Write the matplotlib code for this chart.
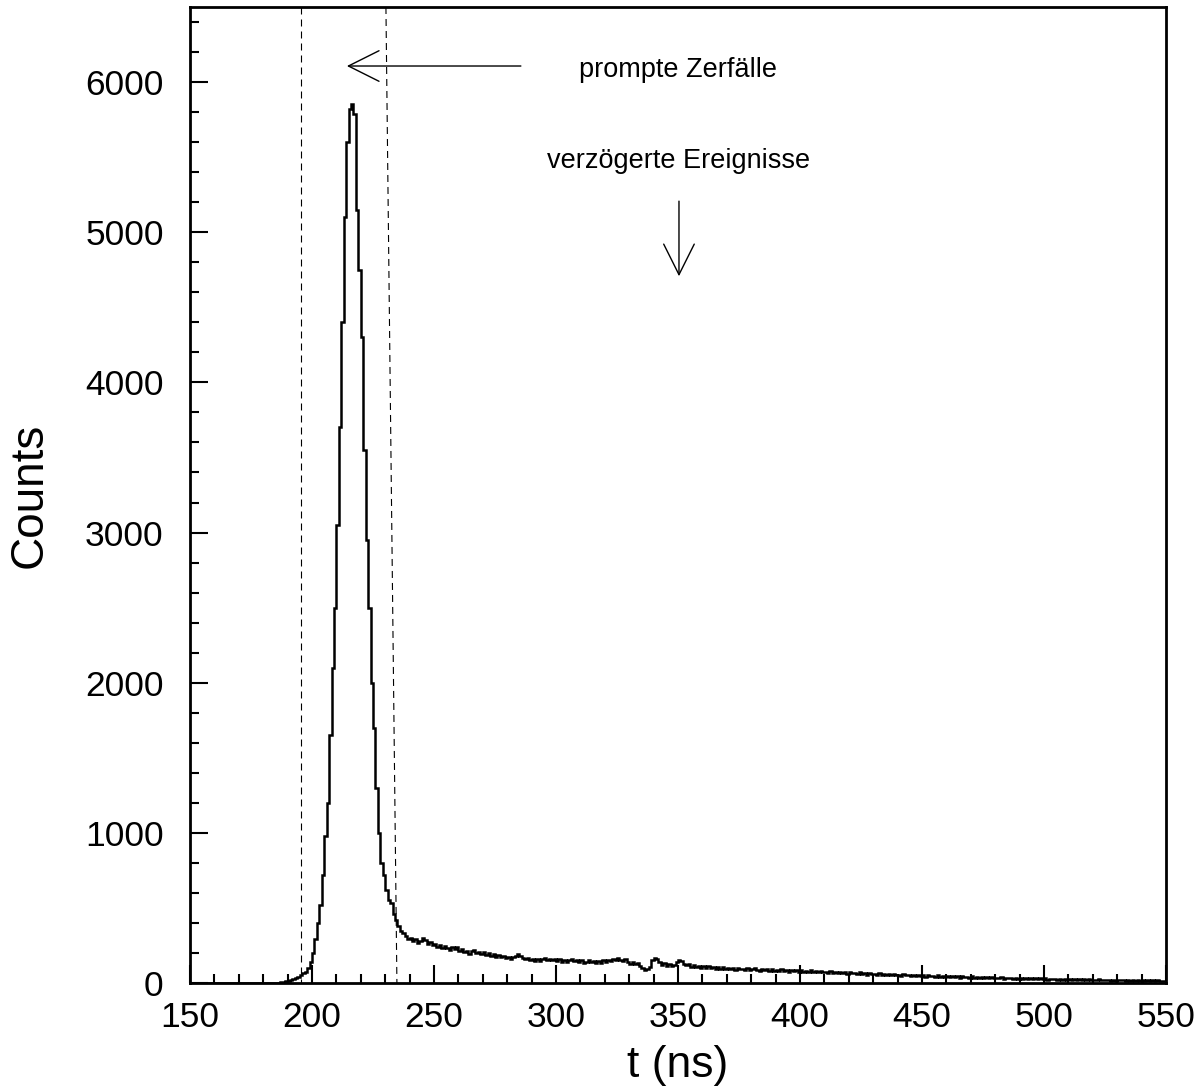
import numpy as np
import matplotlib
matplotlib.use("Agg")
import matplotlib.pyplot as plt
from matplotlib.ticker import MultipleLocator

plt.rcParams['font.family'] = ['Liberation Sans', 'DejaVu Sans']

# ---- data: counts per 1 ns bin, starting at 150 ns ----
t_start = 150
bin_width = 1
counts_flat = [0] * 35  # 150..184
counts_peak = [2, 3, 5, 7, 10, 14, 18, 24, 31, 40,          # 185-194
               53, 64, 75, 100, 140, 200, 290, 400, 520, 720,  # 195-204
               980, 1200, 1650, 2100, 2500, 3050, 3700, 4400, 5100, 5600,  # 205-214
               5820, 5853, 5790, 5150, 4750, 4300, 3550, 2950, 2500, 2000,  # 215-224
               1700, 1300, 1000, 800, 720, 620, 555, 530, 460, 420,   # 225-234
               380, 345, 330]                                     # 235-237
counts_tail = [310, 295, 300, 278, 290, 265, 282, 300, 288, 262,   # 238-247
               275, 255, 262, 240, 252, 230, 245, 236, 222, 240,   # 248-257
               226, 238, 215, 225, 205, 215, 192, 212, 222, 200,   # 258-267
               208, 190, 205, 186, 198, 180, 192, 176, 188, 172,   # 268-277
               180, 165, 176, 160, 172, 180, 190, 178, 168, 158,   # 278-287
               168, 150, 162, 148, 160, 146, 158, 168, 155, 162,   # 288-297
               150, 162, 148, 158, 142, 155, 140, 152, 160, 145,   # 298-307
               155, 140, 150, 132, 142, 150, 138, 148, 136, 146,   # 308-317
               134, 150, 140, 156, 145, 158, 150, 166, 155, 148,   # 318-327
               160, 140, 128, 138, 124, 136, 112, 98, 86, 96,      # 328-337
               108, 150, 168, 158, 142, 122, 130, 116, 128, 110,   # 338-347
               122, 142, 155, 146, 128, 118, 126, 108, 120, 104,   # 348-357
               116, 102, 112, 98, 110, 100, 106, 95, 108, 96,      # 358-367
               104, 92, 102, 94, 100, 88, 98, 90, 96, 86,          # 368-377
               98, 86, 94, 100, 88, 82, 94, 84, 90, 80,            # 378-387
               92, 82, 88, 78, 90, 80, 86, 76, 88, 78,             # 388-397
               84, 74, 86, 76, 80, 72, 84, 74, 78, 70,             # 398-407
               80, 70, 76, 66, 78, 68, 72, 64, 74, 66,             # 408-417
               70, 62, 72, 64, 68, 58, 70, 62, 66, 56,             # 418-427
               66, 58, 62, 54, 64, 56, 60, 52, 60, 50,             # 428-437
               58, 50, 56, 48, 58, 50, 54, 46, 52, 44,             # 438-447
               54, 46, 50, 42, 52, 44, 48, 40, 50, 42,             # 448-457
               46, 40, 48, 38, 44, 40, 46, 36, 44, 38,             # 458-467
               42, 34, 44, 36, 40, 32, 42, 34, 38, 30,             # 468-477
               40, 32, 36, 30, 38, 28, 36, 30, 34, 27,             # 478-487
               35, 28, 32, 26, 34, 27, 30, 24, 32, 25,             # 488-497
               30, 24, 31, 23, 28, 24, 29, 21, 27, 22,             # 498-507
               28, 20, 26, 21, 27, 19, 25, 20, 24, 18,             # 508-517
               25, 18, 23, 19, 24, 17, 22, 18, 23, 16,             # 518-527
               22, 16, 21, 17, 22, 15, 20, 16, 21, 14,             # 528-537
               20, 15, 19, 14, 20, 13, 18, 14, 18, 12,             # 538-547
               16, 13]                                             # 548-549
counts = np.array(counts_flat + counts_peak + counts_tail, dtype=float)
edges = t_start + bin_width * np.arange(len(counts) + 1)

# window marks (dashed lines): (x at top, x at bottom)
window_left = (195.3, 195.3)
window_right = (230.3, 234.8)

xlim = (150, 550)
ylim = (0, 6500)

# annotations
label_prompt = "prompte Zerfälle"
label_delayed = "verzögerte Ereignisse"
prompt_text_pos = (350.0, 6080)
prompt_arrow_tail = (285.6, 6107)
prompt_arrow_tip = (214.3, 6107)
delayed_text_pos = (350.4, 5475)
delayed_arrow_tail = (350.4, 5207)
delayed_arrow_tip = (350.4, 4707)

# ---- figure ----
fig = plt.figure(figsize=(12.04, 10.86), dpi=100)
ax = fig.add_axes([190 / 1204, 103 / 1086, 976 / 1204, 976 / 1086])

ax.stairs(counts, edges, color='black', linewidth=1.8)

for xs in (window_left, window_right):
    ax.plot([xs[0], xs[1]], [ylim[1], ylim[0]], color='black', linewidth=0.8,
            linestyle=(0, (6.3, 4.5)))

arrow_kw = dict(arrowstyle="->,head_length=1.1,head_width=0.55", color='black',
                linewidth=1.0, shrinkA=0, shrinkB=0, mutation_scale=20)
ax.annotate("", xy=prompt_arrow_tip, xytext=prompt_arrow_tail, arrowprops=arrow_kw)
ax.annotate("", xy=delayed_arrow_tip, xytext=delayed_arrow_tail, arrowprops=arrow_kw)
ax.text(*prompt_text_pos, label_prompt, fontsize=19.5, ha='center', va='center')
ax.text(*delayed_text_pos, label_delayed, fontsize=19.5, ha='center', va='center')

ax.set_xlim(*xlim)
ax.set_ylim(*ylim)
ax.xaxis.set_major_locator(MultipleLocator(50))
ax.xaxis.set_minor_locator(MultipleLocator(10))
ax.yaxis.set_major_locator(MultipleLocator(1000))
ax.yaxis.set_minor_locator(MultipleLocator(200))
ax.tick_params(which='both', direction='in', top=False, right=False, width=1.5,
               labelsize=25.5)
ax.tick_params(which='major', length=13)
ax.tick_params(which='minor', length=6.5)
ax.tick_params(axis='y', which='major', pad=19)
ax.tick_params(axis='x', which='major', pad=13)
for s in ax.spines.values():
    s.set_linewidth(2.0)

ax.set_xlabel("t (ns)", fontsize=32, labelpad=8)
ax.set_ylabel("Counts", fontsize=33, labelpad=24)

fig.savefig("out.png", dpi=100)
